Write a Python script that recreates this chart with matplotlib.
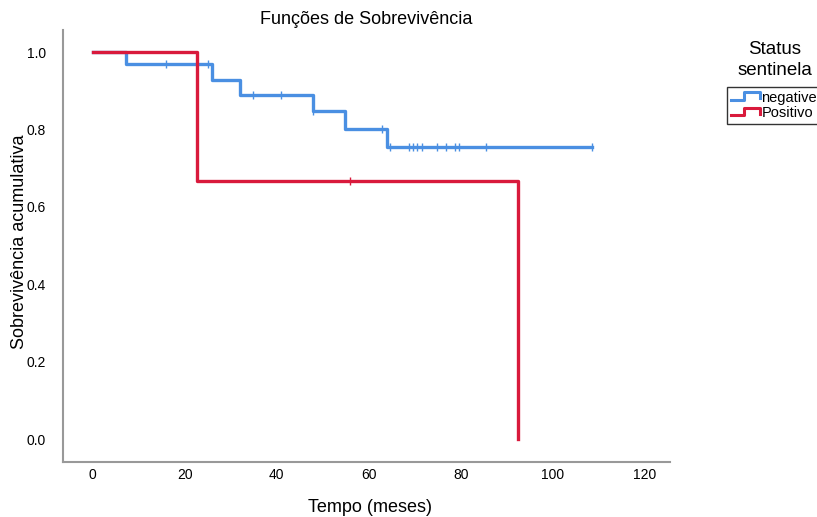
import matplotlib
matplotlib.use('Agg')
import matplotlib.pyplot as plt
from matplotlib.legend_handler import HandlerBase
from matplotlib.lines import Line2D
import numpy as np

plt.rcParams['font.family'] = ['Liberation Sans', 'DejaVu Sans']

# Kaplan-Meier Stufen (Zeit, Überleben)
neg_t = [0, 7.2, 25.9, 32.0, 47.8, 54.8, 63.9, 108.5]
neg_s = [1.0, 0.968, 0.929, 0.889, 0.848, 0.801, 0.755, 0.755]
neg_cens = [15.9, 25.0, 34.8, 40.9, 47.8, 62.8, 64.6, 68.7, 69.6, 70.4,
            71.5, 74.8, 76.7, 78.7, 79.6, 85.6, 108.5]

pos_t = [0, 22.6, 92.4, 92.4]
pos_s = [1.0, 0.667, 0.0, 0.0]
pos_cens = [55.9]

blau = '#4A8FE2'
rot = '#D91A3C'


def wert(t, s, x):
    # Überlebenswert an Stelle x ablesen
    i = np.searchsorted(t, x, side='right') - 1
    return s[i]


class StufenHandler(HandlerBase):
    def create_artists(self, legend, orig, xd, yd, w, h, fontsize, trans):
        xs = [xd, xd + 0.45 * w, xd + 0.45 * w, xd + w, xd + w]
        ys = [yd + 0.2 * h, yd + 0.2 * h, yd + 0.9 * h, yd + 0.9 * h, yd + 0.35 * h]
        l = Line2D(xs, ys, color=orig.get_color(), lw=2.2, transform=trans)
        return [l]


fig = plt.figure(figsize=(8.17, 5.17), dpi=100)
ax = fig.add_axes([0.077, 0.106, 0.743, 0.836])

l1, = ax.step(neg_t, neg_s, where='post', color=blau, lw=2.4, label='negative')
l2, = ax.step(pos_t[:3], pos_s[:3], where='post', color=rot, lw=2.4, label='Positivo')
ax.plot(neg_cens, [wert(neg_t, neg_s, x) for x in neg_cens], ls='none',
        marker='|', ms=6, mew=1.0, color=blau)
ax.plot(pos_cens, [wert(pos_t, pos_s, x) for x in pos_cens], ls='none',
        marker='|', ms=6, mew=1.0, color=rot)

ax.set_xlim(-6.5, 125.5)
ax.set_ylim(-0.059, 1.057)
ax.set_xticks(range(0, 121, 20))
ax.set_yticks([0, 0.2, 0.4, 0.6, 0.8, 1.0])
ax.set_yticklabels(['0.0', '0.2', '0.4', '0.6', '0.8', '1.0'])
ax.tick_params(length=0, labelsize=10)
ax.tick_params(axis='y', pad=12)
ax.tick_params(axis='x', pad=4)

for s in ['top', 'right']:
    ax.spines[s].set_visible(False)
for s in ['left', 'bottom']:
    ax.spines[s].set_color('#999999')
    ax.spines[s].set_linewidth(1.5)

ax.set_title('Funções de Sobrevivência', fontsize=13, pad=4)
ax.set_xlabel('Tempo (meses)', fontsize=13)
ax.set_ylabel('Sobrevivência acumulativa', fontsize=13)
ax.xaxis.set_label_coords(0.506, -0.104)
ax.yaxis.set_label_coords(-0.071, 0.51)
ax.xaxis.label.set_va('center')
ax.yaxis.label.set_va('center')

leg = ax.legend(handles=[l1, l2], loc='upper left',
                bbox_to_anchor=(1.094, 0.868), frameon=True, fancybox=False,
                edgecolor='black', fontsize=10.5,
                handler_map={Line2D: StufenHandler()}, handlelength=2.0,
                handletextpad=0.1, borderpad=0.25, labelspacing=0.1,
                borderaxespad=0)
leg.get_frame().set_linewidth(1.0)

fig.text(775 / 817, 1 - 60 / 517, 'Status\nsentinela', ha='center', va='center',
         fontsize=13.5, linespacing=1.25)

fig.savefig('out.png', dpi=100)
